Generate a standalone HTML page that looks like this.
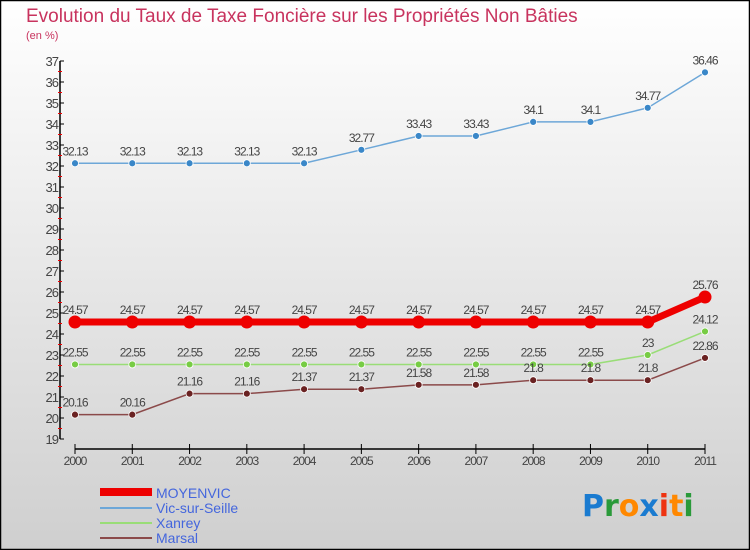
<!DOCTYPE html>
<html><head><meta charset="utf-8"><style>
body{margin:0;}
svg{display:block;font-family:"Liberation Sans",sans-serif;}
</style></head><body>
<svg id="chart" width="750" height="550" viewBox="0 0 750 550">
<defs><linearGradient id="bg" x1="0" y1="0" x2="0" y2="1"><stop offset="0" stop-color="#ffffff"/><stop offset="1" stop-color="#cfcfcf"/></linearGradient></defs>
<rect x="0.5" y="0.5" width="749" height="549" fill="url(#bg)" stroke="#000" stroke-width="1.5"/>
<text x="26" y="22" font-size="19" fill="#c8335e">Evolution du Taux de Taxe Foncière sur les Propriétés Non Bâties</text>
<text x="26" y="39" font-size="11" fill="#c8335e">(en %)</text>
<g id="axes"></g>
<g id="series"></g>
<g font-size="14">
<rect x="100" y="488" width="52" height="8" fill="#ee0000"/>
<text x="156" y="498" fill="#4466dd">MOYENVIC</text>
<line x1="100" y1="508" x2="152" y2="508" stroke="#6da7d8" stroke-width="2"/>
<text x="156" y="513" fill="#4466dd">Vic-sur-Seille</text>
<line x1="100" y1="523" x2="152" y2="523" stroke="#99dd77" stroke-width="2"/>
<text x="156" y="528" fill="#4466dd">Xanrey</text>
<line x1="100" y1="538" x2="152" y2="538" stroke="#8b4a4a" stroke-width="2"/>
<text x="156" y="543" fill="#4466dd">Marsal</text>
</g>
<g font-size="30" font-weight="bold" font-family="'DejaVu Sans',sans-serif">
<text x="582" y="516"><tspan fill="#1a7bd0">P</tspan><tspan fill="#2a9a3a">r</tspan><tspan fill="#ff8800">o</tspan><tspan fill="#1a7bd0">x</tspan><tspan fill="#ee3311">i</tspan><tspan fill="#ff8800">t</tspan><tspan fill="#2a9a3a">i</tspan></text>
</g>
</svg>
<script>
const years=["2000","2001","2002","2003","2004","2005","2006","2007","2008","2009","2010","2011"];
const moyenvic=[24.57,24.57,24.57,24.57,24.57,24.57,24.57,24.57,24.57,24.57,24.57,25.76];
const vic=[32.13,32.13,32.13,32.13,32.13,32.77,33.43,33.43,34.1,34.1,34.77,36.46];
const xanrey=[22.55,22.55,22.55,22.55,22.55,22.55,22.55,22.55,22.55,22.55,23,24.12];
const marsal=[20.16,20.16,21.16,21.16,21.37,21.37,21.58,21.58,21.8,21.8,21.8,22.86];
const yTicks=[19,20,21,22,23,24,25,26,27,28,29,30,31,32,33,34,35,36,37];
const NS="http://www.w3.org/2000/svg";
const X=i=>75+i*(630/11);
const Y=v=>439-(v-19)*(378/18);
function mk(t,a,p){const e=document.createElementNS(NS,t);for(const k in a)e.setAttribute(k,a[k]);p.appendChild(e);return e;}
const ax=document.getElementById('axes');
let l=mk('line',{x1:60,y1:Y(37),x2:60,y2:Y(19),stroke:'#000','stroke-width':1.5},ax);


yTicks.forEach(v=>{
 mk('line',{x1:60,y1:Y(v),x2:64,y2:Y(v),stroke:'#000'},ax);
 if(v<37)mk('line',{x1:58,y1:Y(v+0.5),x2:62,y2:Y(v+0.5),stroke:'#e00'},ax);
 const t=mk('text',{x:58,y:Y(v)+5,'text-anchor':'end','font-size':13,fill:'#444','letter-spacing':'-1'},ax);
 
 
 t.textContent=v;
});
l=mk('line',{x1:X(0),y1:449,x2:X(11),y2:449,stroke:'#000','stroke-width':1.5},ax);


years.forEach((y,i)=>{
 mk('line',{x1:X(i),y1:444,x2:X(i),y2:454,stroke:'#000'},ax);
 const t=mk('text',{x:X(i),y:465,'text-anchor':'middle','font-size':12,fill:'#444','letter-spacing':'-1'},ax);
 
 
 t.textContent=y;
});
const sg=document.getElementById('series');
function series(name,vals,line,dot,w,r){
 const g=mk('g',{},sg);
 
 
 mk('polyline',{points:vals.map((v,i)=>X(i)+','+Y(v)).join(' '),fill:'none',stroke:line,'stroke-width':w},g);
 vals.forEach((v,i)=>{
  const c=mk('circle',{cx:X(i),cy:Y(v),r:r,fill:dot,stroke:'#fff','stroke-width':r>5?0:0.8},g);
  
  
  const t=mk('text',{x:X(i),y:Y(v)-8,'text-anchor':'middle','font-size':12,fill:'#444','letter-spacing':'-1'},g);
  
  
  t.textContent=v;
 });
}
series('vic',vic,'#6da7d8','#3a87c8',1.5,3.5);
series('xanrey',xanrey,'#99dd77','#77cc44',1.5,3.5);
series('marsal',marsal,'#8b4a4a','#6a2222',1.5,3.5);
series('moyenvic',moyenvic,'#ee0000','#ee0000',7,6.5);
</script>
</body></html>
